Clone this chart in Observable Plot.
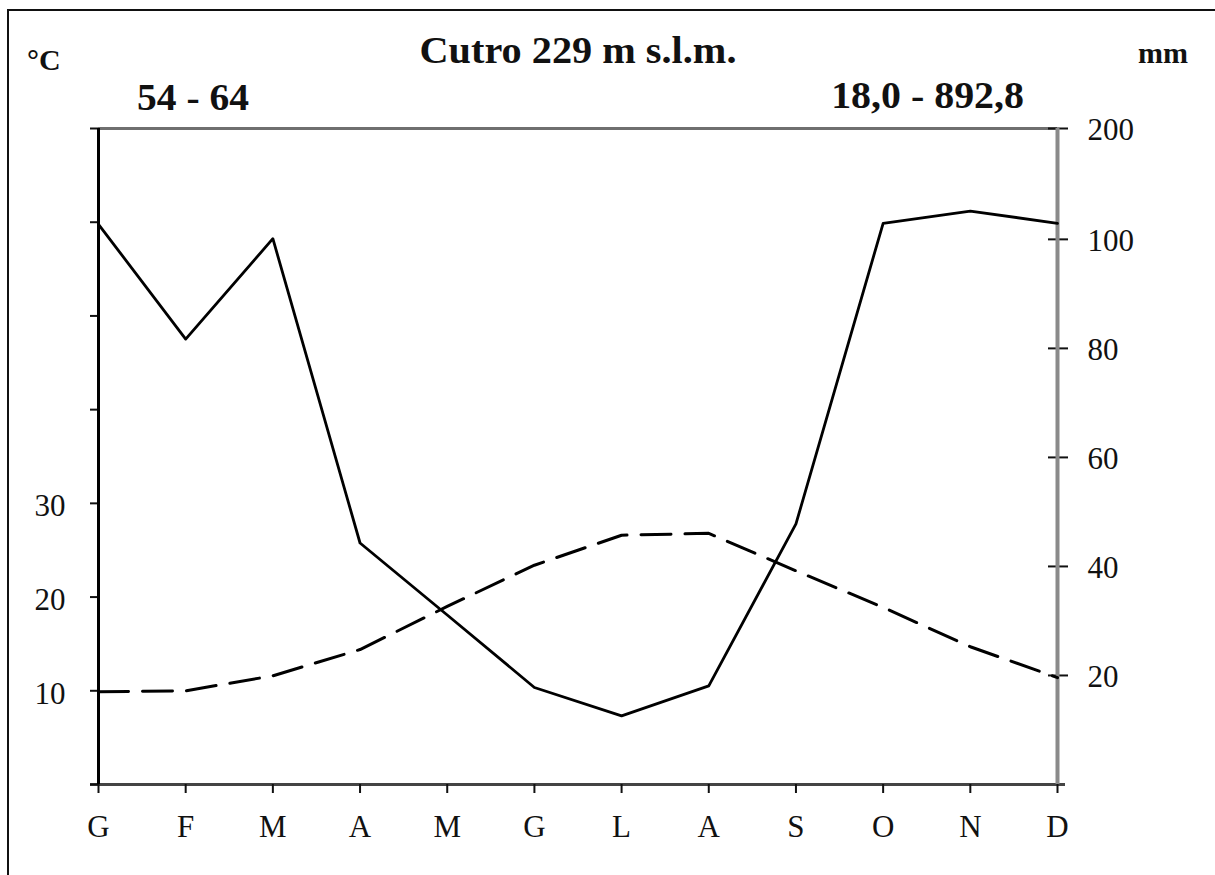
<!DOCTYPE html>
<html>
<head>
<meta charset="utf-8">
<script src="https://cdn.jsdelivr.net/npm/d3@7"></script>
<script src="https://cdn.jsdelivr.net/npm/@observablehq/plot@0.6"></script>
<style>
  html, body { margin: 0; padding: 0; background: #fff; overflow: hidden; }
  #wrap { position: relative; width: 1215px; height: 875px; overflow: hidden; font-family: "Liberation Serif", "Times New Roman", serif; color: #111; }
  #frame { position: absolute; left: 7px; top: 9px; width: 1260px; height: 900px; border: 2px solid #111; box-sizing: border-box; }
  .t { position: absolute; font-weight: bold; line-height: 1; white-space: nowrap; transform-origin: 0 0; }
  #chart { position: absolute; left: 0; top: 0; }
</style>
</head>
<body>
<div id="wrap">
  <div id="frame"></div>
  <div id="chart"></div>
  <div class="t" style="left:0;width:1156px;text-align:center;top:31px;font-size:38px;transform-origin:578px 0;transform:scaleX(1.06);">Cutro 229 m s.l.m.</div>
  <div class="t" style="left:27px;top:45px;font-size:30px;">°C</div>
  <div class="t" style="left:1138px;top:38px;font-size:30px;">mm</div>
  <div class="t" style="left:137px;top:78px;font-size:38px;transform:scaleX(1.04);">54 - 64</div>
  <div class="t" style="left:0;width:1024px;text-align:right;top:76px;font-size:38px;transform-origin:1024px 0;transform:scaleX(1.05);">18,0 - 892,8</div>
</div>
<script>
// Month labels (Italian initials)
const months = ["G","F","M","A","M","G","L","A","S","O","N","D"];
// Mean monthly temperature (°C), dashed line, left axis
const temperature = [9.9, 10.0, 11.6, 14.4, 19.0, 23.4, 26.6, 26.8, 22.8, 18.9, 14.7, 11.4];
// Mean monthly precipitation (mm), solid line, right axis
const precipitation = [113.6, 81.7, 100.6, 44.3, 31.1, 17.8, 12.6, 18.1, 47.8, 114.5, 125.5, 114.5];
// Axis ticks
const tempTicks = [0, 10, 20, 30, 40, 50, 60, 70];
const tempLabels = [10, 20, 30];
const mmTicks = [20, 40, 60, 80, 100, 200];

// Right axis is piecewise: 0–100 mm on one scale, 100–200 mm compressed
const MM100 = 58.17; // temperature-units height of 100 mm
const toT = mm => mm <= 100 ? mm * MM100 / 100 : MM100 + (mm - 100) * (70 - MM100) / 100;
const mmByT = new Map(mmTicks.map(m => [toT(m), m]));

const data = months.map((m, i) => ({i, month: m, temp: temperature[i], mm: precipitation[i]}));

const chart = Plot.plot({
  width: 1215,
  height: 875,
  marginLeft: 98,
  marginRight: 158,
  marginTop: 128,
  marginBottom: 91,
  x: {domain: [0, 11]},
  y: {domain: [0, 70]},
  style: {fontFamily: "Liberation Serif, Times New Roman, serif", fontSize: "31px", color: "#111", background: "transparent", overflow: "visible"},
  marks: [
    Plot.ruleY([70], {stroke: "#6f6f6f", strokeWidth: 3}),
    Plot.ruleY([0], {stroke: "#444", strokeWidth: 3, insetLeft: -8, insetRight: -8}),
    Plot.axisX({ticks: d3.range(12), tickFormat: i => months[i], tickSize: 9, tickPadding: 21, label: null, fontSize: 31, strokeWidth: 2}),
    Plot.axisY({anchor: "left", ticks: tempTicks, tickFormat: () => "", tickSize: 8, label: null, strokeWidth: 2}),
    Plot.axisY({anchor: "left", ticks: tempTicks, tickFormat: d => tempLabels.includes(d) ? String(d) : "", tickSize: 0, tickPadding: 33, dy: 3, label: null, fontSize: 31}),
    Plot.axisY({anchor: "right", ticks: mmTicks.map(toT), tickFormat: () => "", tickSize: 10, label: null, strokeWidth: 2}),
    Plot.axisY({anchor: "right", ticks: mmTicks.map(toT), tickFormat: () => "", tickSize: 10, dx: -10, label: null, strokeWidth: 2}),
    Plot.axisY({anchor: "right", ticks: mmTicks.map(toT), tickFormat: t => String(mmByT.get(t)), tickSize: 0, tickPadding: 30, dy: 2, label: null, fontSize: 31}),
    Plot.ruleX([0], {stroke: "#000", strokeWidth: 3}),
    Plot.ruleX([11], {stroke: "#8a8a8a", strokeWidth: 4}),
    Plot.line(data, {x: "i", y: "temp", stroke: "#000", strokeWidth: 3, strokeDasharray: "30,14"}),
    Plot.line(data, {x: "i", y: d => toT(d.mm), stroke: "#000", strokeWidth: 2.8})
  ]
});
document.getElementById("chart").appendChild(chart);
</script>
</body>
</html>
